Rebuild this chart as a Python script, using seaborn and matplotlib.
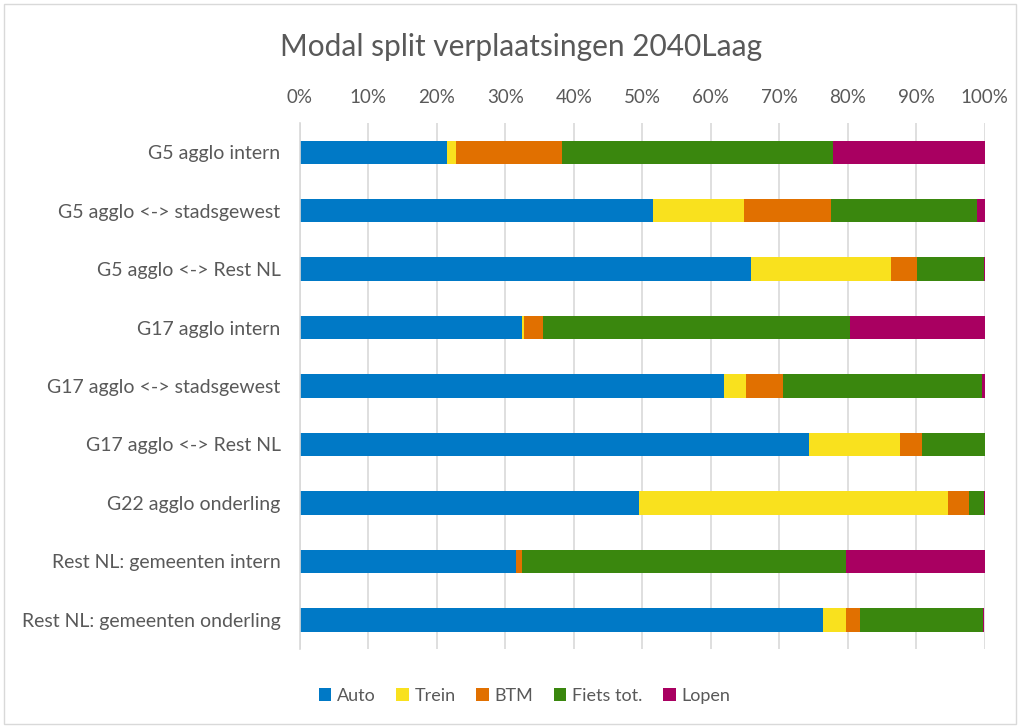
import matplotlib
matplotlib.use("Agg")
import matplotlib.pyplot as plt
from matplotlib.patches import Rectangle, Patch
from matplotlib.ticker import PercentFormatter
import seaborn as sns
import numpy as np
import pandas as pd

# === Data (percentages) ===
categories = [
    "G5 agglo intern",
    "G5 agglo <-> stadsgewest",
    "G5 agglo <-> Rest NL",
    "G17 agglo intern",
    "G17 agglo <-> stadsgewest",
    "G17 agglo <-> Rest NL",
    "G22 agglo onderling",
    "Rest NL: gemeenten intern",
    "Rest NL: gemeenten onderling",
]
auto = [21.5, 51.6, 65.8, 32.4, 61.9, 74.4, 49.5, 31.5, 76.4]
trein = [1.3, 13.3, 20.5, 0.3, 3.3, 13.2, 45.1, 0.1, 3.3]
btm = [15.4, 12.6, 3.8, 2.8, 5.3, 3.3, 3.1, 0.9, 2.1]
fiets = [39.7, 21.4, 9.8, 44.8, 29.1, 9.1, 2.2, 47.3, 18.0]
lopen = [22.1, 1.1, 0.1, 19.8, 0.4, 0.1, 0.1, 20.2, 0.1]

series = ["Auto", "Trein", "BTM", "Fiets tot.", "Lopen"]
colors = ["#0079C6", "#F9E11E", "#E17000", "#3A870E", "#A90061"]

df = pd.DataFrame({"categorie": categories, "Auto": auto, "Trein": trein,
                   "BTM": btm, "Fiets tot.": fiets, "Lopen": lopen})
cum = df[series].cumsum(axis=1)
cum["categorie"] = df["categorie"]

sns.set_theme(style="white")
plt.rcParams["font.family"] = ["Lato", "DejaVu Sans"]
txt = "#595959"

fig = plt.figure(figsize=(10.22, 7.26), dpi=100)
ax = fig.add_axes([0.2935, 0.106, 0.670, 0.7245])

# stacked bars: draw cumulative totals from largest to smallest
for name, col in reversed(list(zip(series, colors))):
    sns.barplot(data=cum, x=name, y="categorie", color=col, orient="h",
                width=0.4, saturation=1, ax=ax, linewidth=0)

ax.set_xlim(0, 100)
ax.set_ylim(8.5, -0.5)
ax.xaxis.tick_top()
ax.set_xticks(np.arange(0, 101, 10))
ax.xaxis.set_major_formatter(PercentFormatter(decimals=0))
ax.grid(axis="x", color="#D9D9D9", linewidth=1.2)
ax.set_axisbelow(True)
for s in ["top", "right", "bottom"]:
    ax.spines[s].set_visible(False)
ax.spines["left"].set_color("#D9D9D9")
ax.spines["left"].set_linewidth(1.2)
ax.tick_params(axis="both", length=0, labelsize=14, colors=txt)
ax.tick_params(axis="y", pad=14)
ax.tick_params(axis="x", pad=12, labelsize=13.5)
ax.set_xlabel("")
ax.set_ylabel("")

fig.text(0.51, 0.935, "Modal split verplaatsingen 2040Laag", ha="center",
         va="center", fontsize=21.5, color=txt)

handles = [Patch(facecolor=c, edgecolor="none") for c in colors]
fig.legend(handles, series, loc="center", bbox_to_anchor=(0.513, 0.042),
           ncol=5, frameon=False, fontsize=13, labelcolor=txt,
           handlelength=0.7, handleheight=0.7, handletextpad=0.3,
           columnspacing=1.15)

fig.patches.append(Rectangle((0.004, 0.003), 0.99, 0.992, transform=fig.transFigure,
                             fill=False, edgecolor="#D9D9D9", linewidth=1))

fig.savefig("out.png", dpi=100)
plt.close(fig)
